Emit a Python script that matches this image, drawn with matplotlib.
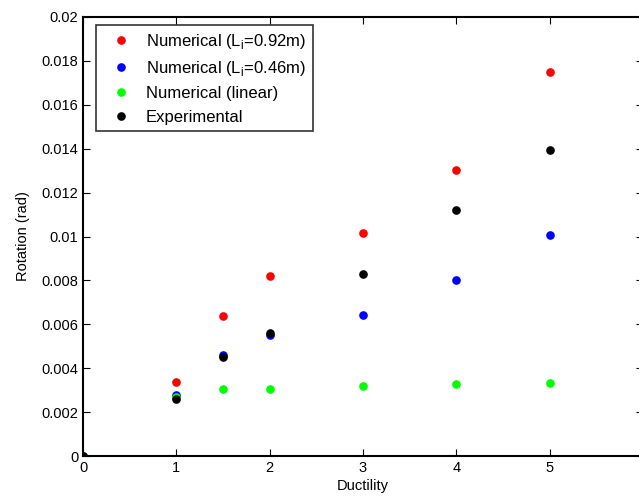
import matplotlib.pyplot as plt

plt.rcParams['font.family'] = ['Liberation Sans', 'DejaVu Sans']

# ductility levels
ductility = [0, 1, 1.5, 2, 3, 4, 5]

# rotation values (rad)
rot_092 = [0, 0.00337, 0.00638, 0.0082, 0.01016, 0.01302, 0.01748]
rot_046 = [0, 0.00278, 0.0046, 0.0055, 0.00642, 0.0080, 0.01008]
rot_linear = [0, 0.0027, 0.00304, 0.00305, 0.0032, 0.00328, 0.00332]
rot_exp = [0, 0.0026, 0.0045, 0.0056, 0.0083, 0.01122, 0.01392]

fig = plt.figure(figsize=(6.39, 5), dpi=100)
ax = fig.add_axes([0.130, 0.088, 1.006 - 0.130, 0.966 - 0.088])

ax.plot(ductility, rot_092, 'o', color='#ff0000', markersize=5.2, label='Numerical (L$_{\\mathregular{i}}$=0.92m)')
ax.plot(ductility, rot_046, 'o', color='#0000ff', markersize=5.2, label='Numerical (L$_{\\mathregular{i}}$=0.46m)')
ax.plot(ductility, rot_linear, 'o', color='#00ff00', markersize=5.2, label='Numerical (linear)')
ax.plot(ductility, rot_exp, 'o', color='#000000', markersize=5.2, label='Experimental')

ax.set_xlim(0, 6)
ax.set_ylim(0, 0.02)
ax.set_xticks([0, 1, 2, 3, 4, 5, 6])
ax.set_yticks([0, 0.002, 0.004, 0.006, 0.008, 0.01, 0.012, 0.014, 0.016, 0.018, 0.02])
ax.set_yticklabels(['0', '0.002', '0.004', '0.006', '0.008', '0.01', '0.012',
                    '0.014', '0.016', '0.018', '0.02'])
ax.tick_params(direction='in', top=True, right=True, labelsize=10.5, length=5)
for s in ax.spines.values():
    s.set_linewidth(1.5)

ax.set_xlabel('Ductility', fontsize=10.5, labelpad=3)
ax.set_ylabel('Rotation (rad)', fontsize=10.5, labelpad=8)

leg = ax.legend(loc='upper left', bbox_to_anchor=(0.023, 0.982), borderaxespad=0,
                fontsize=12, frameon=True, fancybox=False, edgecolor='black',
                handletextpad=0.4, handlelength=2.2, labelspacing=0.5, borderpad=0.4)
leg.get_frame().set_linewidth(1.2)

fig.savefig('out.png', dpi=100)
